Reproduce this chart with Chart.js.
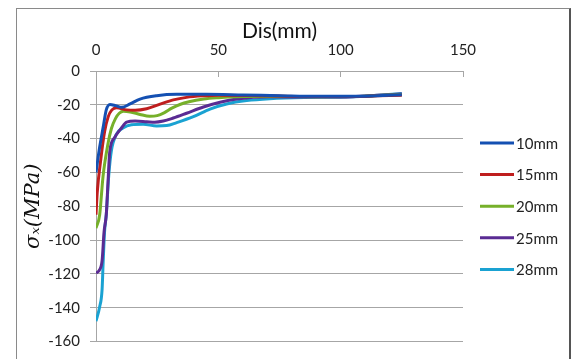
<!DOCTYPE html>
<html><head><meta charset="utf-8">
<script src="https://cdn.jsdelivr.net/npm/chart.js@4/dist/chart.umd.min.js"></script>
<style>
html,body{margin:0;padding:0;background:#fff;}
#wrap{position:relative;width:582px;height:359px;overflow:hidden;background:#fff;}
#frame{position:absolute;left:16px;top:8px;width:552px;height:400px;border:1px solid #8a8a8a;border-right:2px solid #555;}
canvas{position:absolute;left:0;top:0;}
</style></head><body>
<div id="wrap"><div id="frame"></div><canvas id="c" width="582" height="359"></canvas></div>
<script>
// ---- data ----
const seriesLabels = ['10mm', '15mm', '20mm', '25mm', '28mm'];
const xTickValues = [0, 50, 100, 150];
const yTickValues = [0, -20, -40, -60, -80, -100, -120, -140, -160];

const dis10 = [0, 1.5, 2.9, 4.2, 5.7, 8, 10.5, 13.9, 18, 24.8, 33, 45, 60, 75, 90, 105, 115, 125];
const sig10 = [-60, -45, -33.5, -23, -19.8, -20.5, -21.5, -19.5, -16.6, -14.6, -13.8, -13.8, -14.2, -14.6, -15.0, -15.0, -14.6, -14.1];

const dis15 = [0, 0.5, 1.9, 3.5, 5, 6.5, 8.4, 12.5, 16, 20.7, 26.2, 31.6, 37, 43.7, 50, 70, 90, 105, 115, 125];
const sig15 = [-85, -72, -53, -36, -27, -23, -21.7, -23, -23.2, -22.3, -19.6, -17.1, -15.6, -14.7, -14.3, -14.7, -15.1, -15.1, -14.7, -14.3];

const dis20 = [0, 1.5, 2.9, 4.9, 6.3, 8, 9.5, 11.2, 14, 18, 22, 25, 28, 31, 34.3, 38, 44, 50, 57.5, 71, 90, 105, 115, 125];
const sig20 = [-93, -85, -62, -43, -34, -28, -25, -23.8, -24.2, -25.7, -26.8, -26.4, -24.6, -22, -19.8, -18.2, -16.6, -15.8, -15.2, -15.0, -15.2, -15.1, -14.5, -13.9];

const dis25 = [0, 1.5, 2.5, 3.3, 4.2, 4.9, 5.6, 7.6, 10.4, 12.5, 16, 20.7, 24, 27.5, 31.6, 37, 43.9, 50.7, 57.5, 71, 90, 105, 115, 125];
const sig25 = [-119.5, -117.5, -112, -95, -85, -66, -48, -39.4, -33.7, -30.2, -29.6, -30, -30.3, -29.6, -27.8, -25, -21.3, -18.5, -16.6, -15.3, -15.4, -15.2, -14.4, -13.6];

const dis28 = [0, 1.5, 2.5, 2.9, 3.5, 4.2, 5.2, 6.3, 8.3, 11, 14.5, 19.3, 24.8, 28.9, 33, 39.8, 46.6, 53.4, 61.6, 71, 85, 100, 110, 118, 125];
const sig28 = [-148, -139.5, -129, -114, -95, -85, -62, -47, -37.5, -33.7, -31.8, -31.5, -32.5, -32.3, -30.5, -27, -22.5, -19.5, -17.5, -16.4, -15.7, -15.5, -15.0, -14.1, -13.3];

const seriesX = [dis10, dis15, dis20, dis25, dis28];
const seriesY = [sig10, sig15, sig20, sig25, sig28];
const seriesColors = ['#1450b2', '#bf1e1e', '#76b02a', '#5a2b93', '#1aa2d2'];

const datasets = seriesLabels.map((lab, i) => ({
  label: lab,
  data: seriesX[i].map((x, j) => ({ x: x, y: seriesY[i][j] })),
  borderColor: seriesColors[i],
  backgroundColor: seriesColors[i],
  borderWidth: 3,
  pointRadius: 0,
  fill: false,
  cubicInterpolationMode: 'monotone'
}));

const sideLegend = {
  id: 'sideLegend',
  afterDraw(chart) {
    const ctx = chart.ctx;
    chart.data.datasets.forEach((ds, i) => {
      const y = 143 + i * 31.6;
      ctx.save();
      ctx.strokeStyle = ds.borderColor;
      ctx.lineWidth = 3;
      ctx.beginPath();
      ctx.moveTo(480, y);
      ctx.lineTo(514, y);
      ctx.stroke();
      ctx.fillStyle = '#222';
      ctx.font = '15px Lato';
      ctx.textBaseline = 'middle';
      ctx.textAlign = 'left';
      ctx.fillText(ds.label, 516, y + 1);
      ctx.restore();
    });
  }
};

const gridCol = '#a6a6a6';
new Chart(document.getElementById('c'), {
  type: 'line',
  data: { datasets: datasets },
  plugins: [sideLegend],
  options: {
    responsive: false,
    animation: false,
    devicePixelRatio: 1,
    layout: { padding: { left: 16, top: 0, right: 119, bottom: 8 } },
    plugins: { legend: { display: false }, tooltip: { enabled: false } },
    scales: {
      x: {
        type: 'linear', position: 'top', min: 0, max: 150,
        afterBuildTicks: s => { s.ticks = xTickValues.map(v => ({ value: v })); },
        grid: { drawOnChartArea: false, drawTicks: true, tickLength: -6, color: gridCol },
        border: { color: gridCol },
        ticks: { font: { family: 'Lato', size: 15 }, color: '#222', padding: 18, maxRotation: 0 },
        title: { display: true, text: 'Dis(mm)', font: { family: 'Lato', size: 21 }, color: '#111', padding: { top: 19, bottom: 0 } },
        afterFit: s => { s.height = 71; }
      },
      y: {
        type: 'linear', min: -160, max: 0,
        afterBuildTicks: s => { s.ticks = yTickValues.map(v => ({ value: v })); },
        grid: { color: gridCol, tickLength: 6 },
        border: { color: gridCol },
        ticks: { font: { family: 'Lato', size: 15, lineHeight: 1 }, color: '#222', padding: 10 },
        title: { display: true, text: 'σₓ(MPa)', font: { family: 'DejaVu Serif', style: 'italic', size: 21 }, color: '#111', padding: { top: 5, bottom: 0 } },
        afterFit: s => { s.width = 80; }
      }
    }
  }
});
</script>
</body></html>
